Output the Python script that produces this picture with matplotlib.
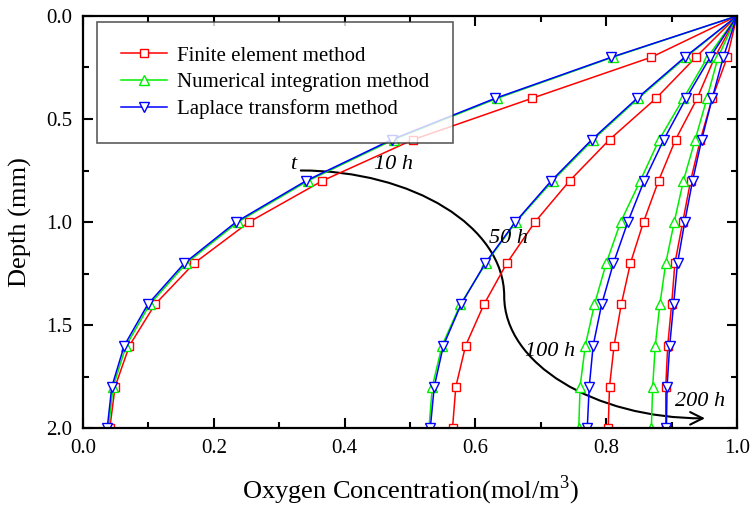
import matplotlib
matplotlib.use("Agg")
import matplotlib.pyplot as plt
from matplotlib.path import Path
from matplotlib.patches import FancyArrowPatch
from matplotlib.ticker import MultipleLocator

plt.rcParams["font.family"] = ["Liberation Serif", "DejaVu Serif"]
plt.rcParams["mathtext.fontset"] = "custom"
plt.rcParams["mathtext.rm"] = "Liberation Serif"

depth = [0.0, 0.2, 0.4, 0.6, 0.8, 1.0, 1.2, 1.4, 1.6, 1.8, 2.0]

# concentration profiles per exposure time (10 h, 50 h, 100 h, 200 h)
fem = [
    [1.0, 0.869, 0.686, 0.505, 0.366, 0.254, 0.170, 0.110, 0.071, 0.049, 0.041],
    [1.0, 0.937, 0.876, 0.805, 0.744, 0.691, 0.648, 0.613, 0.585, 0.570, 0.565],
    [1.0, 0.966, 0.939, 0.906, 0.880, 0.857, 0.837, 0.823, 0.812, 0.805, 0.803],
    [1.0, 0.985, 0.962, 0.944, 0.929, 0.917, 0.905, 0.900, 0.894, 0.891, 0.891],
]
numint = [
    [1.0, 0.810, 0.633, 0.475, 0.344, 0.237, 0.158, 0.102, 0.066, 0.046, 0.039],
    [1.0, 0.922, 0.849, 0.780, 0.718, 0.662, 0.616, 0.577, 0.549, 0.534, 0.529],
    [1.0, 0.955, 0.918, 0.881, 0.852, 0.822, 0.800, 0.782, 0.768, 0.760, 0.758],
    [1.0, 0.971, 0.954, 0.936, 0.918, 0.904, 0.891, 0.882, 0.875, 0.871, 0.869],
]
laplace = [
    [1.0, 0.808, 0.630, 0.472, 0.341, 0.234, 0.155, 0.099, 0.063, 0.044, 0.037],
    [1.0, 0.920, 0.847, 0.778, 0.716, 0.661, 0.615, 0.578, 0.551, 0.537, 0.531],
    [1.0, 0.959, 0.922, 0.888, 0.858, 0.833, 0.811, 0.793, 0.780, 0.774, 0.771],
    [1.0, 0.979, 0.962, 0.946, 0.932, 0.920, 0.909, 0.903, 0.897, 0.893, 0.892],
]

time_labels = ["10 h", "50 h", "100 h", "200 h"]
time_label_pos = [(0.474, 0.72), (0.65, 1.08), (0.714, 1.63), (0.943, 1.87)]


def main():
    fig = plt.figure(figsize=(7.52, 5.11), dpi=100)
    ax = fig.add_axes([0.1104, 0.1624, 0.8697, 0.8063])

    series = [
        (fem, "#ff0000", "s", 6, "Finite element method"),
        (numint, "#00ee00", "^", 7, "Numerical integration method"),
        (laplace, "#0000ff", "v", 7, "Laplace transform method"),
    ]
    for data, color, marker, ms, label in series:
        for i, profile in enumerate(data):
            ax.plot(profile, depth, color=color, lw=1.1, marker=marker, ms=ms,
                    mfc="white", mec=color, mew=1.0,
                    label=label if i == 0 else None)

    ax.set_xlim(0, 1.0)
    ax.set_ylim(2.0, 0.0)
    ax.xaxis.set_major_locator(MultipleLocator(0.2))
    ax.xaxis.set_minor_locator(MultipleLocator(0.1))
    ax.yaxis.set_major_locator(MultipleLocator(0.5))
    ax.yaxis.set_minor_locator(MultipleLocator(0.25))
    ax.xaxis.set_major_formatter(plt.FormatStrFormatter("%.1f"))
    ax.yaxis.set_major_formatter(plt.FormatStrFormatter("%.1f"))
    ax.tick_params(which="both", direction="in", top=True, right=True,
                   labelsize=15, width=1.5)
    ax.tick_params(which="major", length=7, pad=8)
    ax.tick_params(which="minor", length=4)
    for sp in ax.spines.values():
        sp.set_linewidth(1.6)

    ax.set_xlabel("Oxygen Concentration(mol/m$^3$)", fontsize=19, labelpad=11)
    ax.set_ylabel("Depth (mm)", fontsize=19, labelpad=10)

    # time arrow
    k = 0.5523
    verts = [
        (0.333, 0.75), (0.333 + k * 0.311, 0.75), (0.644, 1.36 - k * 0.61), (0.644, 1.36),
        (0.644, 1.36 + k * 0.593), (0.951 - k * 0.307, 1.953), (0.951, 1.953),
    ]
    codes = [Path.MOVETO, Path.CURVE4, Path.CURVE4, Path.CURVE4,
             Path.CURVE4, Path.CURVE4, Path.CURVE4]
    arrow = FancyArrowPatch(path=Path(verts, codes), arrowstyle="->,head_length=0.5,head_width=0.25",
                            mutation_scale=18, color="black", lw=1.5)
    ax.add_patch(arrow)

    ax.text(0.321, 0.72, "t", fontsize=16, style="italic", ha="center", va="center")
    for txt, (x, y) in zip(time_labels, time_label_pos):
        ax.text(x, y, txt, fontsize=16, style="italic", ha="center", va="center")

    leg = ax.legend(loc="upper left", bbox_to_anchor=(0.021, 0.985), fontsize=15,
                    fancybox=False, frameon=True, handlelength=2.2, borderaxespad=0,
                    borderpad=1.15, labelspacing=0.33, handletextpad=0.5)
    leg.get_frame().set_edgecolor("0.2")
    leg.get_frame().set_linewidth(1.2)

    fig.savefig("out.png", dpi=100)


if __name__ == "__main__":
    main()
